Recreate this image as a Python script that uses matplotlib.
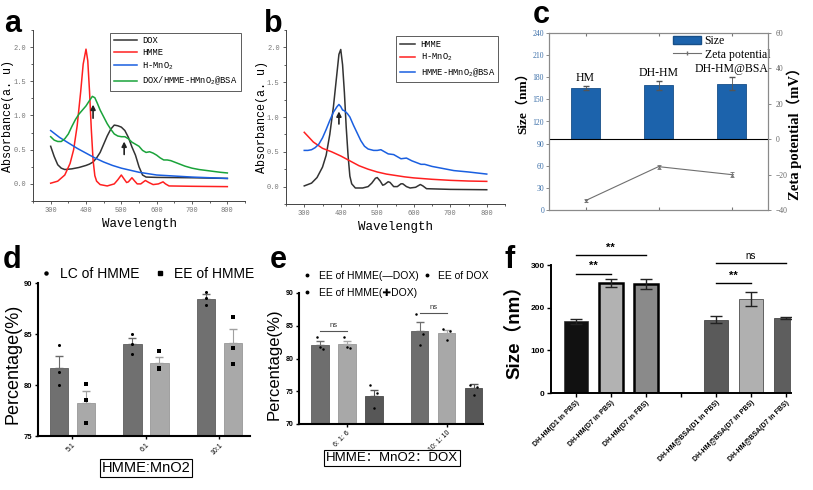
import numpy as np
import matplotlib
matplotlib.use('Agg')
import matplotlib.pyplot as plt
from matplotlib.patches import Patch
from matplotlib.lines import Line2D

plt.rcParams['font.family'] = ['Liberation Sans', 'Noto Sans CJK SC']
plt.rcParams['mathtext.default'] = 'regular'
MONO = ['Liberation Mono', 'DejaVu Sans Mono']
SERIF = ['Liberation Serif', 'Noto Sans CJK SC']

W, H = 813, 490

# ---------------- data: panel a (UV-vis) ----------------
a_dox_wl = [300, 310, 320, 330, 340, 360, 380, 400, 410, 420, 430, 440, 450, 460, 470, 480, 490, 500,
            510, 520, 530, 540, 550, 560, 570, 600, 700, 800]
a_dox = [0.55, 0.40, 0.28, 0.23, 0.21, 0.22, 0.24, 0.27, 0.29, 0.32, 0.38, 0.46, 0.58, 0.70, 0.80, 0.86,
         0.85, 0.83, 0.78, 0.68, 0.54, 0.42, 0.25, 0.13, 0.10, 0.095, 0.09, 0.08]
a_hmme_wl = [300, 320, 340, 355, 365, 375, 385, 392, 400, 405, 410, 415, 420, 425, 430, 440, 460, 480,
             490, 500, 508, 515, 520, 530, 538, 545, 555, 568, 578, 590, 605, 618, 625, 635, 700, 800]
a_hmme = [0.01, 0.04, 0.13, 0.30, 0.50, 0.85, 1.35, 1.75, 1.97, 1.80, 1.35, 0.80, 0.35, 0.12, 0.04,
          -0.01, -0.03, 0.00, 0.06, 0.13, 0.07, 0.02, 0.03, 0.09, 0.04, 0.00, 0.00, 0.05, 0.02, -0.01,
          0.00, 0.03, 0.00, -0.03, -0.035, -0.04]
a_mno2_wl = [300, 325, 350, 375, 400, 425, 450, 475, 500, 525, 550, 575, 600, 650, 700, 750, 800]
a_mno2 = [0.78, 0.68, 0.60, 0.52, 0.45, 0.38, 0.32, 0.27, 0.23, 0.20, 0.17, 0.15, 0.13, 0.115, 0.10, 0.09, 0.08]
a_bsa_wl = [300, 310, 320, 330, 340, 350, 360, 370, 380, 390, 400, 410, 418, 425, 432, 440, 450, 460,
            470, 480, 490, 500, 510, 520, 530, 540, 550, 560, 570, 580, 590, 600, 610, 620, 630, 640,
            660, 680, 700, 720, 750, 780, 800]
a_bsa = [0.69, 0.64, 0.62, 0.62, 0.66, 0.73, 0.84, 0.94, 1.02, 1.08, 1.14, 1.22, 1.28, 1.26, 1.18, 1.08,
         0.98, 0.88, 0.80, 0.73, 0.70, 0.69, 0.69, 0.66, 0.61, 0.58, 0.55, 0.49, 0.46, 0.47, 0.45, 0.42,
         0.38, 0.35, 0.35, 0.34, 0.30, 0.26, 0.23, 0.21, 0.19, 0.17, 0.16]

# ---------------- data: panel b ----------------
b_hmme_wl = [300, 320, 335, 350, 360, 370, 380, 388, 395, 400, 405, 410, 415, 420, 425, 430, 440, 460,
             475, 485, 495, 500, 508, 515, 520, 530, 535, 545, 555, 565, 570, 580, 590, 605, 618, 625,
             635, 700, 800]
b_hmme = [0.01, 0.05, 0.13, 0.28, 0.45, 0.75, 1.15, 1.55, 1.90, 1.97, 1.75, 1.35, 0.85, 0.45, 0.15,
          0.04, -0.02, -0.02, 0.00, 0.05, 0.12, 0.13, 0.08, 0.02, 0.03, 0.07, 0.06, 0.00, 0.00, 0.04,
          0.04, 0.00, -0.02, -0.01, 0.03, 0.01, -0.03, -0.04, -0.045]
b_mno2_wl = [300, 325, 350, 375, 400, 425, 450, 475, 500, 525, 550, 575, 600, 650, 700, 750, 800]
b_mno2 = [0.78, 0.64, 0.55, 0.50, 0.44, 0.37, 0.30, 0.25, 0.21, 0.18, 0.16, 0.14, 0.125, 0.105, 0.09, 0.08, 0.075]
b_bsa_wl = [300, 310, 320, 330, 340, 350, 360, 370, 380, 390, 395, 400, 405, 410, 418, 425, 435, 445,
            455, 465, 475, 490, 500, 510, 520, 530, 545, 555, 565, 580, 595, 610, 620, 630, 650, 680,
            710, 750, 800]
b_bsa = [0.52, 0.52, 0.53, 0.56, 0.61, 0.70, 0.82, 0.95, 1.07, 1.15, 1.18, 1.15, 1.10, 1.09, 1.05, 1.00,
         0.88, 0.77, 0.66, 0.58, 0.54, 0.52, 0.52, 0.53, 0.50, 0.47, 0.46, 0.43, 0.40, 0.41, 0.37, 0.34,
         0.32, 0.32, 0.29, 0.26, 0.23, 0.21, 0.18]

# ---------------- data: panel c ----------------
c_names = ['HM', 'DH-HM', 'DH-HM@BSA']
c_size = [165.3, 168.9, 171.2]
c_size_err = [3, 6, 9]
c_zeta = [-34.7, -15.5, -20.0]
c_zeta_err = [1.0, 1.2, 1.5]

# ---------------- data: panel d ----------------
d_groups = ['5:1', '6:1', '10:1']
d_lc = [81.65, 83.99, 88.44]
d_lc_err = [1.19, 0.58, 0.44]
d_lc_pts = [[83.9, 81.24, 79.99], [85.0, 84.03, 83.04], [89.12, 88.5, 87.83]]
d_ee = [78.26, 82.19, 84.1]
d_ee_err = [1.12, 0.58, 1.39]
d_ee_pts = [[80.06, 78.53, 76.32], [83.31, 81.52, 81.69], [86.71, 83.62, 82.02]]

# ---------------- data: panel e ----------------
e_groups = ['6: 1: 6', '10: 1: 10']
e_minus = [82.1, 84.18]
e_minus_err = [0.5, 1.36]
e_minus_pts = [[83.25, 81.5, 81.75], [86.8, 83.67, 81.99]]
e_plus = [82.2, 83.88]
e_plus_err = [0.5, 0.52]
e_plus_pts = [[83.25, 81.55, 81.8], [84.54, 84.18, 82.9]]
e_dox = [74.25, 75.5]
e_dox_err = [0.95, 0.6]
e_dox_pts = [[75.95, 74.7, 72.5], [76.0, 75.7, 74.4]]
e_ns_y = [84.2, 87.0]

# ---------------- data: panel f ----------------
f_names = ['DH-HM(D1 in PBS)', 'DH-HM(D7 in PBS)', 'DH-HM(D7 in FBS)', '',
           'DH-HM@BSA(D1 in PBS)', 'DH-HM@BSA(D7 in PBS)', 'DH-HM@BSA(D7 in FBS)']
f_size = [168.4, 257.2, 254.9, None, 171.5, 220.6, 175.4]
f_err = [6, 9, 12, None, 8.5, 17, 3]
f_colors = ['#111111', '#b2b2b2', '#8a8a8a', None, '#5a5a5a', '#b0b0b0', '#5e5e5e']
f_sig = [(0, 1, 280, '**'), (0, 2, 323, '**'), (4, 5, 257, '**'), (4, 6, 304, 'ns')]

fig = plt.figure(figsize=(W / 100, H / 100), dpi=100)


def box(l, t, r, b):
    return [l / W, 1 - b / H, (r - l) / W, (b - t) / H]


def ylabel_at(ax, xpix, ycen=0.5):
    # put the y label at pixel column xpix (figure pixels)
    l, b, w, h = ax.get_position().bounds
    ax.yaxis.set_label_coords((xpix / W - l) / w, ycen)


def spectrum_axes(rect):
    ax = fig.add_axes(rect)
    ax.spines['top'].set_visible(False)
    ax.spines['right'].set_visible(False)
    for s in ('left', 'bottom'):
        ax.spines[s].set_color('#444444')
        ax.spines[s].set_linewidth(0.7)
    ax.set_xlim(250, 850)
    ax.set_ylim(-0.25, 2.25)
    ax.set_xticks(range(300, 801, 100))
    ax.set_xticks(range(250, 851, 50), minor=True)
    ax.set_yticks([0, 0.5, 1.0, 1.5, 2.0])
    ax.set_yticks(np.arange(-0.25, 2.26, 0.25), minor=True)
    ax.set_yticklabels(['0.0', '0.5', '1.0', '1.5', '2.0'])
    ax.tick_params(which='both', labelsize=5, labelcolor='#777777', color='#444444', width=0.6, pad=2)
    ax.tick_params(which='major', length=2.5)
    ax.tick_params(which='minor', length=1.5)
    for lab in ax.get_xticklabels() + ax.get_yticklabels():
        lab.set_family(MONO)
    ax.set_xlabel('Wavelength', family=MONO, fontsize=9, labelpad=3)
    ax.set_ylabel('Absorbance(a. u)', family=MONO, fontsize=8.5)
    return ax


# ---- a ----
ax = spectrum_axes(box(33, 30, 245, 201))
ylabel_at(ax, 14)
ax.plot(a_dox_wl, a_dox, color='#333333', lw=1.1, label='DOX')
ax.plot(a_hmme_wl, a_hmme, color='#ff2020', lw=1.1, label='HMME')
ax.plot(a_mno2_wl, a_mno2, color='#1a5fe0', lw=1.1, label=r'H-MnO$_2$')
ax.plot(a_bsa_wl, a_bsa, color='#1aa33a', lw=1.1, label=r'DOX/HMME-HMnO$_2$@BSA')
ax.annotate('', xy=(420, 1.2), xytext=(420, 0.92),
            arrowprops=dict(arrowstyle='-|>', color='#222222', lw=1.2, mutation_scale=7))
ax.annotate('', xy=(508, 0.66), xytext=(508, 0.39),
            arrowprops=dict(arrowstyle='-|>', color='#222222', lw=1.2, mutation_scale=7))
leg = ax.legend(loc='upper right', bbox_to_anchor=(1.0, 1.01), prop={'family': MONO, 'size': 6.3},
                frameon=True, fancybox=False, edgecolor='#333333', handlelength=2.6, borderpad=0.4,
                labelspacing=0.35, handletextpad=0.6)
leg.get_frame().set_linewidth(0.7)

# ---- b ----
ax = spectrum_axes(box(286, 30, 505, 204))
ylabel_at(ax, 268)
ax.plot(b_hmme_wl, b_hmme, color='#333333', lw=1.1, label='HMME')
ax.plot(b_mno2_wl, b_mno2, color='#ff2020', lw=1.1, label=r'H-MnO$_2$')
ax.plot(b_bsa_wl, b_bsa, color='#1a5fe0', lw=1.1, label=r'HMME-HMnO$_2$@BSA')
ax.annotate('', xy=(395, 1.12), xytext=(395, 0.86),
            arrowprops=dict(arrowstyle='-|>', color='#222222', lw=1.2, mutation_scale=7))
leg = ax.legend(loc='upper right', bbox_to_anchor=(0.99, 0.99), prop={'family': MONO, 'size': 6.3},
                frameon=True, fancybox=False, edgecolor='#333333', handlelength=1.8, borderpad=0.4,
                labelspacing=0.35, handletextpad=0.6)
leg.get_frame().set_linewidth(0.7)

# ---- c ----
ax = fig.add_axes(box(549, 33, 768, 210))
ax2 = ax.twinx()
ax.set_xlim(0.5, 3.5)
ax.set_ylim(0, 240)
ax2.set_ylim(-40, 60)
base = (0 - (-40)) / 100 * 240
xc = np.arange(1, 4)
ax.bar(xc, np.array(c_size) - base, bottom=base, width=0.41, color='#1c63ac', edgecolor='#174f88', lw=0.6)
ax.errorbar(xc, c_size, yerr=c_size_err, fmt='none', ecolor='#555555', elinewidth=0.6, capsize=2)
for i in range(3):
    ax.text(xc[i], c_size[i] + c_size_err[i] + 3, c_names[i], ha='center', va='bottom',
            family=SERIF, fontsize=8.5)
ax2.axhline(0, color='black', lw=0.8)
ax2.errorbar(xc, c_zeta, yerr=c_zeta_err, color='#6f6f6f', lw=0.8, marker='x', ms=2, mew=0.6,
             elinewidth=0.6, capsize=1.5)
ax.set_yticks(range(0, 241, 30))
ax.set_xticks(xc)
ax.tick_params(axis='x', top=True, bottom=True, labelbottom=False, direction='in', length=2, color='#777777')
ax.tick_params(axis='y', labelsize=5.5, labelcolor='#3a6ea8', color='#777777', length=2, width=0.6, pad=1.5)
ax2.set_yticks([-40, -20, 0, 20, 40, 60])
ax2.tick_params(axis='y', labelsize=5.5, labelcolor='#666666', color='#777777', length=2, width=0.6)
for lab in ax.get_yticklabels() + ax2.get_yticklabels():
    lab.set_family(SERIF)
for a_ in (ax, ax2):
    for s in a_.spines.values():
        s.set_color('#8a8a8a')
        s.set_linewidth(0.8)
ax.set_ylabel('Size（nm）', family=SERIF, fontsize=9.5, weight='bold')
ylabel_at(ax, 529, 0.62)
ax2.set_ylabel('Zeta potential（mV）', family=SERIF, fontsize=10.5, weight='bold')
ylabel_at(ax2, 786, 0.45)
handles = [Patch(facecolor='#1c63ac', edgecolor='#174f88'),
           Line2D([], [], color='#6f6f6f', lw=0.8, marker='|', ms=3)]
ax.legend(handles, ['Size', 'Zeta potential'], loc='upper right', bbox_to_anchor=(1.02, 1.0),
          frameon=False, prop={'family': SERIF, 'size': 8.5}, handlelength=2.4, handletextpad=0.3,
          labelspacing=0.1, borderpad=0.1, borderaxespad=0.1)


def prism_axes(rect, lw=1.5):
    ax = fig.add_axes(rect)
    ax.spines['top'].set_visible(False)
    ax.spines['right'].set_visible(False)
    for s in ('left', 'bottom'):
        ax.spines[s].set_linewidth(lw)
    ax.tick_params(width=1, length=2.5, pad=1.5)
    return ax


# ---- d ----
ax = prism_axes(box(38, 283, 250, 436))
xd = np.arange(3)
off = 0.184
ax.bar(xd - off, d_lc, 0.25, color='#707070', edgecolor='#5e5e5e', lw=0.6)
ax.bar(xd + off, d_ee, 0.25, color='#a9a9a9', edgecolor='#989898', lw=0.6)
ax.errorbar(xd - off, d_lc, yerr=[np.zeros(3), d_lc_err], fmt='none', ecolor='#6a6a6a', elinewidth=0.8, capsize=3)
ax.errorbar(xd + off, d_ee, yerr=[np.zeros(3), d_ee_err], fmt='none', ecolor='#a0a0a0', elinewidth=0.8, capsize=3)
for i in range(3):
    ax.plot([xd[i] - off] * 3, d_lc_pts[i], 'o', color='black', ms=2.2, mew=0)
    ax.plot([xd[i] + off] * 3, d_ee_pts[i], 's', color='black', ms=2.2, mew=0)
ax.set_ylim(75, 90)
ax.set_xlim(-0.47, 2.42)
ax.set_yticks([75, 80, 85, 90])
ax.set_xticks(xd)
ax.set_xticklabels(d_groups, rotation=45, ha='right', rotation_mode='anchor', fontsize=5)
ax.tick_params(axis='y', labelsize=5.5)
for lab in ax.get_yticklabels():
    lab.set_weight('bold')
ax.set_ylabel('Percentage(%)', fontsize=13)
ylabel_at(ax, 21, 0.47)
ax.legend([Line2D([], [], ls='', marker='o', color='black', ms=2.2),
           Line2D([], [], ls='', marker='s', color='black', ms=2.2)],
          ['LC of HMME', 'EE of HMME'], ncol=2, loc='lower left', bbox_to_anchor=(-0.02, 0.98),
          frameon=False, fontsize=10, handlelength=1.0, handletextpad=0.5, columnspacing=1.0,
          borderaxespad=0)
fig.text(146 / W, 1 - 468 / H, 'HMME:MnO2', ha='center', va='center', fontsize=10.5,
         bbox=dict(boxstyle='square,pad=0.12', fc='white', ec='black', lw=0.8))

# ---- e ----
ax = prism_axes(box(299, 293, 483, 424))
xe = np.array([0.0, 3.7])
series = [(xe, e_minus, e_minus_err, e_minus_pts, '#6e6e6e', '#5e5e5e'),
          (xe + 1, e_plus, e_plus_err, e_plus_pts, '#a8a8a8', '#989898'),
          (xe + 2, e_dox, e_dox_err, e_dox_pts, '#575757', '#4a4a4a')]
for xs, mean, err, pts, col, ec in series:
    ax.bar(xs, mean, 0.65, color=col, edgecolor=ec, lw=0.6)
    ax.errorbar(xs, mean, yerr=[np.zeros(2), err], fmt='none', ecolor=col, elinewidth=0.8, capsize=3)
    for i in range(2):
        ax.plot([xs[i] - 0.12, xs[i] + 0.12, xs[i]], pts[i], 'o', color='black', ms=1.8, mew=0)
for i in range(2):
    ax.plot([xe[i], xe[i] + 1], [e_ns_y[i]] * 2, color='#555555', lw=0.8)
    ax.text(xe[i] + 0.5, e_ns_y[i] + 0.3, 'ns', ha='center', va='bottom', fontsize=5.5, color='#333333')
ax.set_xlim(-0.77, 6.05)
ax.set_ylim(70, 90)
ax.set_yticks([70, 75, 80, 85, 90])
ax.set_xticks(xe + 1)
ax.set_xticklabels(e_groups, rotation=45, ha='right', rotation_mode='anchor', fontsize=5)
ax.tick_params(axis='y', labelsize=5)
for lab in ax.get_yticklabels():
    lab.set_weight('bold')
ax.set_ylabel('Percentage(%)', fontsize=12)
ylabel_at(ax, 282, 0.46)
ax.legend([Line2D([], [], ls='', marker='o', color='black', ms=1.8)] * 3,
          ['EE of HMME(\u2014DOX)', 'EE of HMME(\u271aDOX)', 'EE of DOX'], ncol=2, loc='lower left',
          bbox_to_anchor=(0.0, 0.93), frameon=False, handlelength=0.8,
          handletextpad=0.7, columnspacing=0.4, labelspacing=0.7, borderaxespad=0,
          prop={'family': ['Liberation Sans', 'DejaVu Sans'], 'size': 7.5})
fig.text(392 / W, 1 - 458 / H, 'HMME：MnO2：DOX', ha='center', va='center', fontsize=9.5,
         bbox=dict(boxstyle='square,pad=0.12', fc='white', ec='black', lw=0.8))

# ---- f ----
ax = prism_axes(box(551, 265, 791, 393), lw=1.4)
xf = np.arange(len(f_names))
for i in range(len(f_names)):
    if f_size[i] is None:
        continue
    edge = 'black' if i in (1, 2) else '#333333'
    lw = 1.8 if i in (1, 2) else 0.5
    ax.bar(xf[i], f_size[i], 0.68, color=f_colors[i], edgecolor=edge, lw=lw)
    ax.errorbar(xf[i], f_size[i], yerr=f_err[i], fmt='none', ecolor='#222222', elinewidth=1, capsize=4)
for x0, x1, y, txt in f_sig:
    ax.plot([x0, x1], [y, y], color='black', lw=1, clip_on=False)
    ax.text((x0 + x1) / 2, y + 6, txt, ha='center', va='bottom', fontsize=8 if txt == '**' else 7,
            weight='bold' if txt == '**' else 'normal', clip_on=False)
ax.set_xlim(-0.71, 6.15)
ax.set_ylim(0, 300)
ax.set_yticks([0, 100, 200, 300])
ax.set_xticks(xf)
ax.set_xticklabels(f_names, rotation=45, ha='right', rotation_mode='anchor', fontsize=5, weight='bold')
ax.tick_params(axis='y', labelsize=6)
ax.tick_params(length=3)
for lab in ax.get_yticklabels():
    lab.set_weight('bold')
ax.set_ylabel('Size（nm）', fontsize=13.5, weight='bold')
ylabel_at(ax, 524, 0.51)

# ---- panel letters ----
for lt, x, y in [('a', 4, 32), ('b', 264, 32), ('c', 533, 23), ('d', 3, 268), ('e', 270, 268), ('f', 504, 268)]:
    fig.text(x / W, 1 - y / H, lt, fontsize=22, weight='bold', ha='left', va='baseline')

fig.savefig('out.png', dpi=100)
